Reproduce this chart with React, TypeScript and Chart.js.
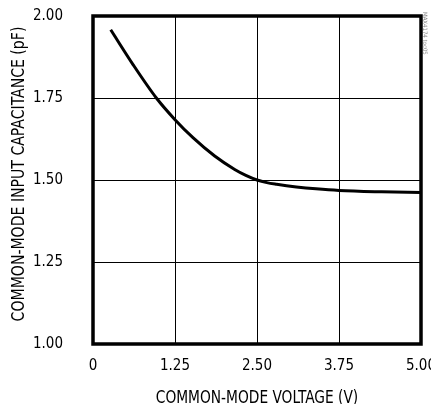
import React, { useEffect, useRef } from "react";
import { Chart, registerables } from "chart.js";

Chart.register(...registerables);

const voltage = [0.27, 0.61, 0.966, 1.25, 1.524, 1.855, 2.16, 2.33, 2.5, 2.65, 2.8, 3.1, 3.4, 3.75, 4.4, 5.0];
const capacitance = [1.958, 1.852, 1.75, 1.684, 1.629, 1.573, 1.532, 1.514, 1.5, 1.492, 1.487, 1.479, 1.473, 1.468, 1.464, 1.462];
const xTicks = [0, 1.25, 2.5, 3.75, 5.0];
const yTicks = [1.0, 1.25, 1.5, 1.75, 2.0];
const xTitle = "COMMON-MODE VOLTAGE (V)";
const yTitle = "COMMON-MODE INPUT CAPACITANCE (pF)";
const noteText = "MAX4174 toc05";

const FONT = "'Liberation Sans Narrow', 'DejaVu Sans Condensed', 'Arial Narrow', sans-serif";

const framePlugin = {
  id: "frame",
  afterDraw(chart: any) {
    const { ctx, chartArea } = chart;
    const { left, top, right, bottom } = chartArea;
    ctx.save();
    ctx.strokeStyle = "#000";
    ctx.lineWidth = 3.5;
    ctx.strokeRect(left, top, right - left, bottom - top);
    ctx.fillStyle = "#000";
    ctx.font = `17px ${FONT}`;
    ctx.textAlign = "center";
    ctx.textBaseline = "alphabetic";
    ctx.save();
    ctx.translate((left + right) / 2, bottom + 59);
    ctx.scale(0.9, 1);
    ctx.fillText(xTitle, 0, 0);
    ctx.restore();
    ctx.save();
    ctx.translate(24, (top + bottom) / 2 - 6);
    ctx.rotate(-Math.PI / 2);
    ctx.scale(0.92, 1);
    ctx.fillText(yTitle, 0, 0);
    ctx.restore();
    ctx.save();
    ctx.translate(right + 4, top - 4);
    ctx.rotate(Math.PI / 2);
    ctx.fillStyle = "#888";
    ctx.font = `6px ${FONT}`;
    ctx.textAlign = "left";
    ctx.textBaseline = "middle";
    ctx.fillText(noteText, 0, 0);
    ctx.restore();
    ctx.restore();
  },
};

const fixBox = (s: any) => {
  s.paddingTop = 0;
  s.paddingBottom = 0;
  s.paddingLeft = 0;
  s.paddingRight = 0;
};

export default function App() {
  const ref = useRef<HTMLCanvasElement | null>(null);
  useEffect(() => {
    document.body.style.margin = "0";
    const canvas = ref.current;
    if (!canvas) return;
    const chart = new Chart(canvas, {
      type: "line",
      data: {
        datasets: [
          {
            data: voltage.map((v, i) => ({ x: v, y: capacitance[i] })),
            borderColor: "#000",
            borderWidth: 3,
            pointRadius: 0,
            cubicInterpolationMode: "monotone",
            fill: false,
          },
        ],
      },
      options: {
        animation: false,
        responsive: false,
        devicePixelRatio: 1,
        layout: { padding: { top: 16, right: 10, left: 0, bottom: 0 } },
        plugins: { legend: { display: false }, tooltip: { enabled: false } },
        scales: {
          x: {
            type: "linear",
            min: 0,
            max: 5,
            afterFit: (s: any) => {
              s.height = 60;
              fixBox(s);
            },
            afterBuildTicks: (s: any) => {
              s.ticks = xTicks.map((v) => ({ value: v }));
            },
            ticks: {
              color: "#000",
              font: { family: FONT, size: 15 },
              padding: 13,
              maxRotation: 0,
              autoSkip: false,
              callback: (v: any) => (Number(v) === 0 ? "0" : Number(v).toFixed(2)),
            },
            grid: { color: "#000", lineWidth: 1, drawTicks: false },
            border: { display: false },
          },
          y: {
            type: "linear",
            min: 1,
            max: 2,
            afterFit: (s: any) => {
              s.width = 93;
              fixBox(s);
            },
            afterBuildTicks: (s: any) => {
              s.ticks = yTicks.map((v) => ({ value: v }));
            },
            ticks: {
              color: "#000",
              font: { family: FONT, size: 15 },
              padding: 30,
              autoSkip: false,
              callback: (v: any) => Number(v).toFixed(2),
            },
            grid: { color: "#000", lineWidth: 1, drawTicks: false },
            border: { display: false },
          },
        },
      },
      plugins: [framePlugin],
    });
    return () => chart.destroy();
  }, []);
  return (
    <div style={{ width: 431, height: 404, background: "#fff" }}>
      <canvas ref={ref} width={431} height={404} style={{ display: "block" }} />
    </div>
  );
}
